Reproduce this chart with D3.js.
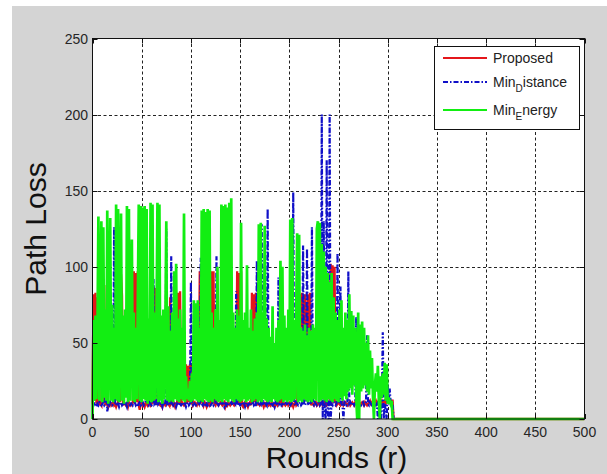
<!DOCTYPE html>
<html>
<head>
<meta charset="utf-8">
<script src="https://cdn.jsdelivr.net/npm/d3@7"></script>
<style>
  body { margin: 0; background: #fff; }
  svg { display: block; font-family: "Liberation Sans", Arial, sans-serif; }
</style>
</head>
<body>
<svg id="chart" width="607" height="474"></svg>
<script>
// path loss per round, three routing schemes (all nodes dead after ~306)
const lastRound = 500;
const xTicks = [0, 50, 100, 150, 200, 250, 300, 350, 400, 450, 500];
const yTicks = [0, 50, 100, 150, 200, 250];
const seriesNames = ["Proposed", "Min_Distance", "Min_Energy"];

const proposed = [
  10, 82, 12, 83, 10, 80, 9, 11, 10, 9,
  89, 12, 88, 9, 11, 10, 8, 10, 11, 9,
  10, 11, 9, 10, 8, 10, 11, 96, 11, 95,
  81, 9, 11, 10, 9, 10, 8, 11, 10, 9,
  10, 11, 97, 10, 96, 11, 97, 9, 6, 10,
  11, 9, 10, 8, 10, 11, 9, 10, 11, 9,
  10, 11, 87, 10, 86, 80, 9, 11, 10, 9,
  10, 8, 11, 10, 9, 10, 11, 10, 9, 80,
  10, 11, 9, 10, 8, 10, 11, 83, 10, 84,
  9, 11, 10, 9, 10, 36, 10, 35, 11, 36,
  10, 35, 9, 10, 11, 10, 9, 11, 10, 97,
  10, 96, 12, 9, 11, 10, 8, 10, 11, 9,
  10, 97, 10, 97, 10, 9, 11, 10, 9, 10,
  11, 10, 9, 10, 11, 8, 10, 9, 11, 10,
  9, 10, 11, 10, 9, 10, 11, 97, 10, 96,
  10, 97, 9, 8, 10, 11, 9, 10, 8, 10,
  11, 9, 83, 10, 82, 11, 83, 9, 11, 10,
  9, 10, 11, 10, 8, 10, 9, 11, 10, 9,
  10, 9, 11, 10, 9, 8, 10, 11, 9, 10,
  11, 80, 10, 9, 11, 10, 9, 10, 11, 9,
  10, 11, 9, 10, 8, 10, 11, 9, 10, 82,
  40, 82, 60, 83, 50, 70, 82, 45, 65, 82,
  50, 83, 9, 11, 10, 9, 10, 11, 9, 10,
  11, 9, 10, 11, 9, 10, 11, 10, 9, 10,
  11, 9, 102, 10, 101, 11, 100, 11, 9, 10,
  11, 10, 9, 10, 11, 9, 10, 11, 10, 9,
  10, 11, 9, 10, 11, 10, 9, 11, 10, 9,
  10, 11, 9, 10, 11, 10, 9, 11, 10, 9,
  10, 11, 12, 10, 11, 12, 10, 11, 12, 10,
  11, 12, 10, 11, 12, 10, 11, 12, 10, 12,
  12, 13, 12, 12, 12, 12, 0
];

const minDistance = [
  10, 9, 11, 10, 8, 10, 9, 11, 10, 9,
  10, 11, 9, 10, 60, 5, 10, 9, 11, 10,
  9, 10, 126, 10, 9, 11, 10, 8, 10, 11,
  9, 10, 11, 9, 10, 8, 11, 10, 9, 10,
  11, 9, 10, 11, 9, 10, 8, 10, 11, 9,
  10, 11, 9, 10, 11, 86, 10, 9, 11, 10,
  9, 10, 92, 10, 11, 9, 90, 10, 11, 9,
  10, 8, 11, 10, 9, 125, 10, 11, 9, 10,
  107, 10, 9, 11, 10, 8, 10, 9, 11, 10,
  9, 10, 11, 9, 10, 8, 10, 11, 9, 10,
  90, 10, 9, 11, 10, 9, 10, 11, 9, 10,
  106, 10, 9, 11, 10, 8, 10, 9, 11, 10,
  9, 10, 11, 9, 10, 10, 107, 10, 9, 11,
  10, 9, 11, 10, 8, 10, 9, 11, 10, 9,
  10, 11, 9, 10, 11, 10, 84, 9, 11, 10,
  9, 10, 11, 9, 10, 8, 10, 11, 9, 10,
  11, 9, 10, 11, 9, 10, 8, 104, 10, 9,
  11, 10, 128, 10, 9, 11, 10, 9, 138, 10,
  9, 11, 10, 9, 10, 8, 11, 10, 9, 93,
  10, 11, 9, 10, 11, 9, 10, 11, 9, 10,
  11, 9, 10, 11, 149, 10, 9, 11, 10, 9,
  10, 11, 9, 10, 114, 10, 9, 11, 112, 10,
  9, 11, 10, 126, 10, 9, 11, 10, 9, 10,
  11, 9, 10, 200, 0, 130, 5, 0, 170, 3,
  0, 200, 0, 10, 9, 11, 10, 9, 10, 109,
  10, 11, 87, 10, 9, 0, 11, 10, 9, 10,
  97, 10, 11, 9, 10, 11, 9, 10, 67, 10,
  9, 11, 10, 9, 10, 11, 9, 10, 11, 55,
  10, 9, 11, 10, 9, 10, 11, 10, 9, 10,
  0, 11, 10, 0, 9, 57, 0, 10, 5, 0,
  23, 10, 20, 11, 12, 10, 0
];

const minEnergy = [
  0, 65, 12, 68, 13, 55, 133, 12, 70, 130,
  11, 126, 14, 72, 12, 137, 10, 66, 132, 12,
  75, 11, 60, 13, 141, 12, 138, 11, 70, 135,
  12, 68, 10, 72, 14, 140, 11, 138, 12, 65,
  118, 12, 70, 11, 60, 13, 75, 141, 12, 140,
  11, 139, 13, 140, 12, 138, 10, 66, 12, 142,
  11, 141, 12, 70, 13, 62, 142, 11, 141, 12,
  68, 10, 72, 13, 60, 130, 12, 74, 11, 58,
  12, 70, 11, 97, 13, 102, 12, 66, 11, 72,
  13, 60, 12, 135, 11, 28, 13, 20, 12, 25,
  11, 30, 12, 78, 13, 76, 12, 78, 11, 60,
  12, 137, 11, 138, 13, 136, 12, 138, 11, 137,
  12, 70, 11, 60, 13, 72, 12, 100, 11, 65,
  12, 141, 11, 140, 13, 141, 12, 139, 11, 142,
  13, 145, 12, 70, 11, 60, 13, 72, 12, 68,
  11, 129, 12, 65, 13, 70, 11, 101, 12, 60,
  13, 72, 11, 58, 12, 66, 13, 70, 11, 128,
  12, 129, 11, 70, 13, 127, 12, 66, 11, 60,
  12, 54, 11, 74, 13, 50, 12, 60, 11, 65,
  12, 104, 13, 100, 11, 68, 12, 60, 11, 72,
  12, 131, 11, 132, 12, 65, 13, 70, 122, 11,
  121, 12, 60, 11, 58, 13, 62, 12, 55, 11,
  60, 12, 58, 11, 62, 13, 60, 12, 125, 130,
  11, 129, 12, 115, 13, 110, 12, 100, 11, 96,
  13, 90, 12, 96, 11, 80, 13, 70, 12, 65,
  11, 72, 14, 78, 12, 60, 15, 70, 13, 65,
  18, 82, 20, 71, 16, 68, 22, 60, 14, 0,
  70, 0, 62, 18, 64, 20, 60, 22, 50, 18,
  55, 16, 45, 20, 40, 15, 0, 22, 30, 18,
  35, 12, 0, 28, 14, 30, 16, 37, 12, 36,
  10, 14, 12, 10, 12, 0, 0
];

const svg = d3.select("#chart");
const plot = { left: 92.5, right: 584.5, top: 38.5, bottom: 419 };

const x = d3.scaleLinear().domain([0, lastRound]).range([plot.left, plot.right]);
const y = d3.scaleLinear().domain([0, 250]).range([plot.bottom, plot.top]);

// figure background
svg.append("rect").attr("x", 12).attr("y", 6).attr("width", 595).attr("height", 468)
    .attr("fill", "#d4d4d4");
svg.append("rect")
    .attr("x", plot.left).attr("y", plot.top)
    .attr("width", plot.right - plot.left).attr("height", plot.bottom - plot.top)
    .attr("fill", "#fff");

// dashed grid
const grid = svg.append("g").attr("stroke", "#222").attr("stroke-width", 1)
    .attr("stroke-dasharray", "3,2.5");
grid.selectAll(".gx").data(xTicks.slice(1, -1)).join("line")
    .attr("x1", d => Math.round(x(d)) + 0.5).attr("x2", d => Math.round(x(d)) + 0.5)
    .attr("y1", plot.top).attr("y2", plot.bottom);
grid.selectAll(".gy").data(yTicks.slice(1, -1)).join("line")
    .attr("y1", d => Math.round(y(d)) + 0.5).attr("y2", d => Math.round(y(d)) + 0.5)
    .attr("x1", plot.left).attr("x2", plot.right);

svg.append("clipPath").attr("id", "clip").append("rect")
    .attr("x", plot.left - 2).attr("y", plot.top)
    .attr("width", plot.right - plot.left + 2).attr("height", plot.bottom - plot.top + 2);

const line = d3.line().x(d => x(d[0])).y(d => y(d[1]));
function toPoints(values) {
    const pts = values.map((v, i) => [i, v]);
    pts.push([lastRound, 0]);
    return pts;
}

const series = [
    { values: proposed, color: "#e4161b", dash: null, width: 2.3 },
    { values: minDistance, color: "#1010c8", dash: "5,2,1.5,2", width: 2.2 },
    { values: minEnergy, color: "#12ee12", dash: null, width: 2.7 }
];

const lines = svg.append("g").attr("clip-path", "url(#clip)");
series.forEach(s => {
    lines.append("path")
        .datum(toPoints(s.values))
        .attr("d", line)
        .attr("fill", "none")
        .attr("stroke", s.color)
        .attr("stroke-width", s.width)
        .attr("stroke-linejoin", "miter")
        .attr("stroke-dasharray", s.dash);
});

// axes, ticks inward on all four sides
const tickLen = 5;
const axisG = svg.append("g").attr("stroke", "#111").attr("stroke-width", 1);
axisG.append("rect")
    .attr("x", plot.left).attr("y", plot.top)
    .attr("width", plot.right - plot.left).attr("height", plot.bottom - plot.top)
    .attr("fill", "none");
xTicks.forEach(t => {
    const px = Math.round(x(t)) + 0.5;
    axisG.append("line").attr("x1", px).attr("x2", px)
        .attr("y1", plot.bottom).attr("y2", plot.bottom - tickLen);
    axisG.append("line").attr("x1", px).attr("x2", px)
        .attr("y1", plot.top).attr("y2", plot.top + tickLen);
});
yTicks.forEach(t => {
    const py = Math.round(y(t)) + 0.5;
    axisG.append("line").attr("y1", py).attr("y2", py)
        .attr("x1", plot.left).attr("x2", plot.left + tickLen);
    axisG.append("line").attr("y1", py).attr("y2", py)
        .attr("x1", plot.right).attr("x2", plot.right - tickLen);
});

svg.append("g").selectAll("text").data(xTicks).join("text")
    .attr("x", d => x(d)).attr("y", 437)
    .attr("text-anchor", "middle")
    .attr("font-size", 14).attr("fill", "#262626")
    .text(d => d);
svg.append("g").selectAll("text").data(yTicks).join("text")
    .attr("x", 88).attr("y", d => y(d) + 5)
    .attr("text-anchor", "end")
    .attr("font-size", 14).attr("fill", "#262626")
    .text(d => d);

svg.append("text")
    .attr("x", 336.5).attr("y", 468)
    .attr("text-anchor", "middle")
    .attr("font-size", 30).attr("fill", "#111")
    .text("Rounds (r)");
svg.append("text")
    .attr("transform", "translate(46,229) rotate(-90)")
    .attr("text-anchor", "middle")
    .attr("font-size", 30).attr("fill", "#111")
    .text("Path Loss");

// legend
const legend = svg.append("g");
legend.append("rect")
    .attr("x", 434.5).attr("y", 46.5).attr("width", 145).attr("height", 83)
    .attr("fill", "#fff").attr("stroke", "#111").attr("stroke-width", 1);
const rowsY = [58, 82, 110];
series.forEach((s, i) => {
    legend.append("line")
        .attr("x1", 443).attr("x2", 487)
        .attr("y1", rowsY[i]).attr("y2", rowsY[i])
        .attr("stroke", s.color).attr("stroke-width", 2)
        .attr("stroke-dasharray", s.dash);
    const label = legend.append("text")
        .attr("x", 493).attr("y", rowsY[i] + 5)
        .attr("font-size", 14).attr("fill", "#222");
    const parts = seriesNames[i].split("_");
    if (parts.length === 1) {
        label.text(parts[0]);
    } else {
        // underscore rendered as subscript of the next letter, like the original
        label.append("tspan").text(parts[0]);
        label.append("tspan").attr("font-size", 10).attr("dy", 5).text(parts[1][0]);
        label.append("tspan").attr("dy", -5).text(parts[1].slice(1));
    }
});
</script>
</body>
</html>
